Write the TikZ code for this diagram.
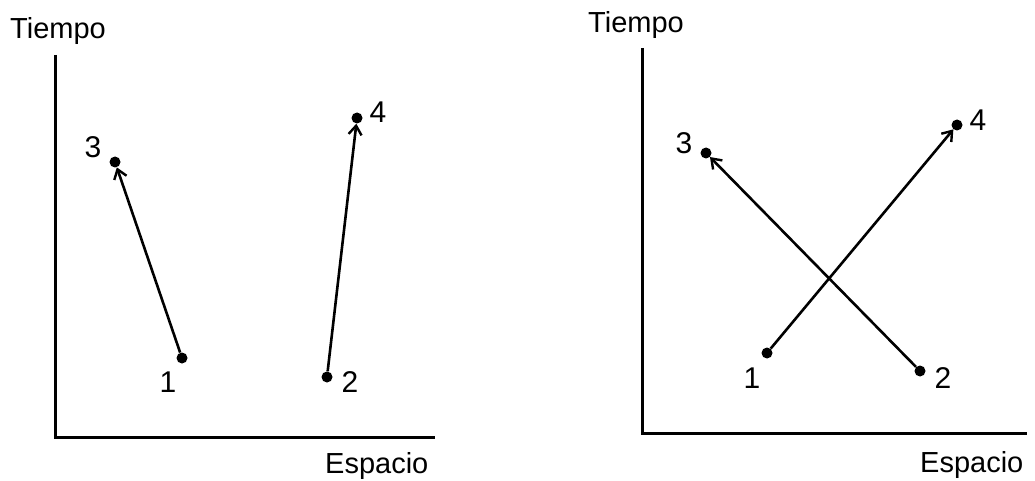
\documentclass[tikz,border=0pt]{standalone}
\usepackage{fontspec}
\setmainfont{Liberation Sans}
\usetikzlibrary{arrows.meta}
\begin{document}
\begin{tikzpicture}[x=1pt,y=-1pt,
  axis/.style={line width=3pt},
  pt/.style={circle,fill=black,inner sep=0pt,minimum size=11pt},
  arr/.style={line width=2.6pt,-{Straight Barb[length=9pt,width=13pt,line width=2.4pt]}},
  lbl/.style={inner sep=0pt,font=\fontsize{29}{32}\selectfont},
  num/.style={inner sep=0pt,font=\fontsize{30}{32}\selectfont}]
\useasboundingbox (0,0) rectangle (1035,481);
% left panel
\coordinate (lo) at (55,437);
\coordinate (ly) at (55,55);
\coordinate (lx) at (435,437);
\draw[axis] (ly) -- (lo) -- (lx);
\node[lbl,anchor=base west] (lt) at (10,39) {Tiempo};
\node[lbl,anchor=base west] (le) at (325,473) {Espacio};
\node[pt] (a3) at (115,162) {};
\node[pt] (a4) at (357,118) {};
\node[pt] (a1) at (182,358) {};
\node[pt] (a2) at (327,377) {};
\node[num] (n3) at (93,147) {3};
\node[num] (n4) at (378,112) {4};
\node[num] (n1) at (168,382) {1};
\node[num] (n2) at (350,382) {2};
\draw[arr] (a1) -- (a3);
\draw[arr] (a2) -- (a4);
% right panel
\coordinate (ro) at (642,433);
\coordinate (ry) at (642,48);
\coordinate (rx) at (1027,433);
\draw[axis] (ry) -- (ro) -- (rx);
\node[lbl,anchor=base west] (rt) at (588,33) {Tiempo};
\node[lbl,anchor=base west] (re) at (920,472) {Espacio};
\node[pt] (b3) at (706,153) {};
\node[pt] (b4) at (957,125) {};
\node[pt] (b1) at (767,353) {};
\node[pt] (b2) at (920,371) {};
\node[num] (m3) at (684,143) {3};
\node[num] (m4) at (978,120) {4};
\node[num] (m1) at (752,378) {1};
\node[num] (m2) at (943,378) {2};
\draw[arr] (b1) -- (b4);
\draw[arr] (b2) -- (b3);
\end{tikzpicture}
\end{document}
